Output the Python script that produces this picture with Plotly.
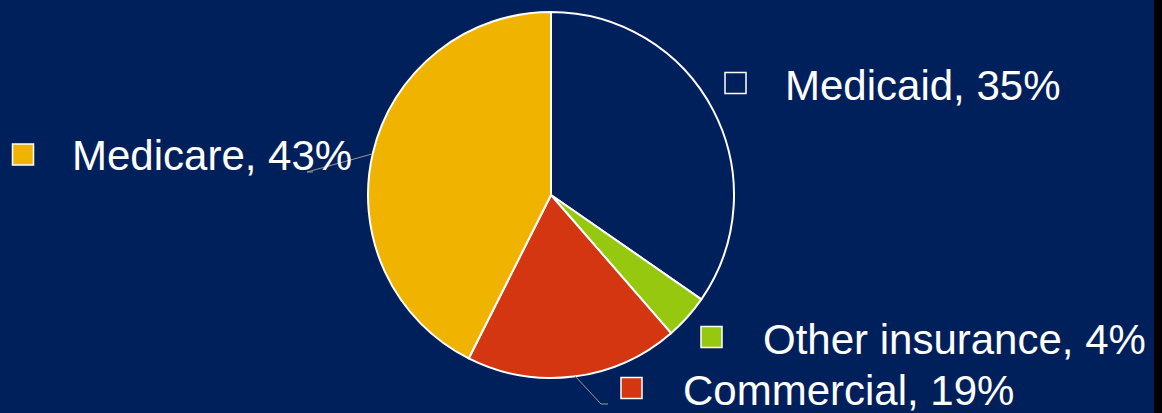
import plotly.graph_objects as go

labels = ["Medicaid", "Other insurance", "Commercial", "Medicare"]
values = [35, 4, 19, 43]
colors = ["#00205B", "#96C80F", "#D33611", "#F0B400"]

W, H = 1162, 413
BG = "#00205B"

def px(x):
    return x / W

def py(y):
    return 1 - y / H

cx, cy, r = 551, 195, 183

fig = go.Figure(go.Pie(
    labels=labels, values=values, sort=False, direction="clockwise",
    marker=dict(colors=colors, line=dict(color="white", width=2)),
    textinfo="none", hoverinfo="label+percent", showlegend=False,
    domain=dict(x=[px(cx - r), px(cx + r)], y=[py(cy + r), py(cy - r)]),
))

# label placement (pixel): square centre, text left x, text mid y
label_pos = {
    "Medicaid": (735.5, 83, 783, 85),
    "Other insurance": (711.5, 337, 761, 339),
    "Commercial": (631.5, 388, 681, 390),
    "Medicare": (23, 154.5, 70, 156),
}
shapes = []
annotations = []
for lab, val, col in zip(labels, values, colors):
    sx, sy, tx, ty = label_pos[lab]
    h = 10.5
    shapes.append(dict(type="rect", xref="paper", yref="paper",
                       x0=px(sx - h), x1=px(sx + h), y0=py(sy + h), y1=py(sy - h),
                       line=dict(color="white", width=1.5), fillcolor=col, layer="above"))
    annotations.append(dict(xref="paper", yref="paper", x=px(tx), y=py(ty),
                            xanchor="left", yanchor="middle", showarrow=False,
                            text=f"{lab}, {val}%",
                            font=dict(family="Liberation Sans, Arial", size=42, color="white")))

# leader lines
for pts in ([(372, 154), (307, 172), (313, 172)],
            [(575, 376), (601, 404), (608, 404)]):
    path = "M " + " L ".join(f"{px(x)},{py(y)}" for x, y in pts)
    shapes.append(dict(type="path", xref="paper", yref="paper", path=path,
                       line=dict(color="#9A9A9A", width=1), layer="above"))

# dark edge strip on the right
shapes.append(dict(type="rect", xref="paper", yref="paper",
                   x0=px(1154), x1=1, y0=0, y1=1,
                   line=dict(width=0), fillcolor="#000000", layer="above"))

fig.update_layout(
    width=W, height=H, margin=dict(l=0, r=0, t=0, b=0),
    paper_bgcolor=BG, plot_bgcolor=BG,
    shapes=shapes, annotations=annotations,
)
fig.write_html("out.html")
